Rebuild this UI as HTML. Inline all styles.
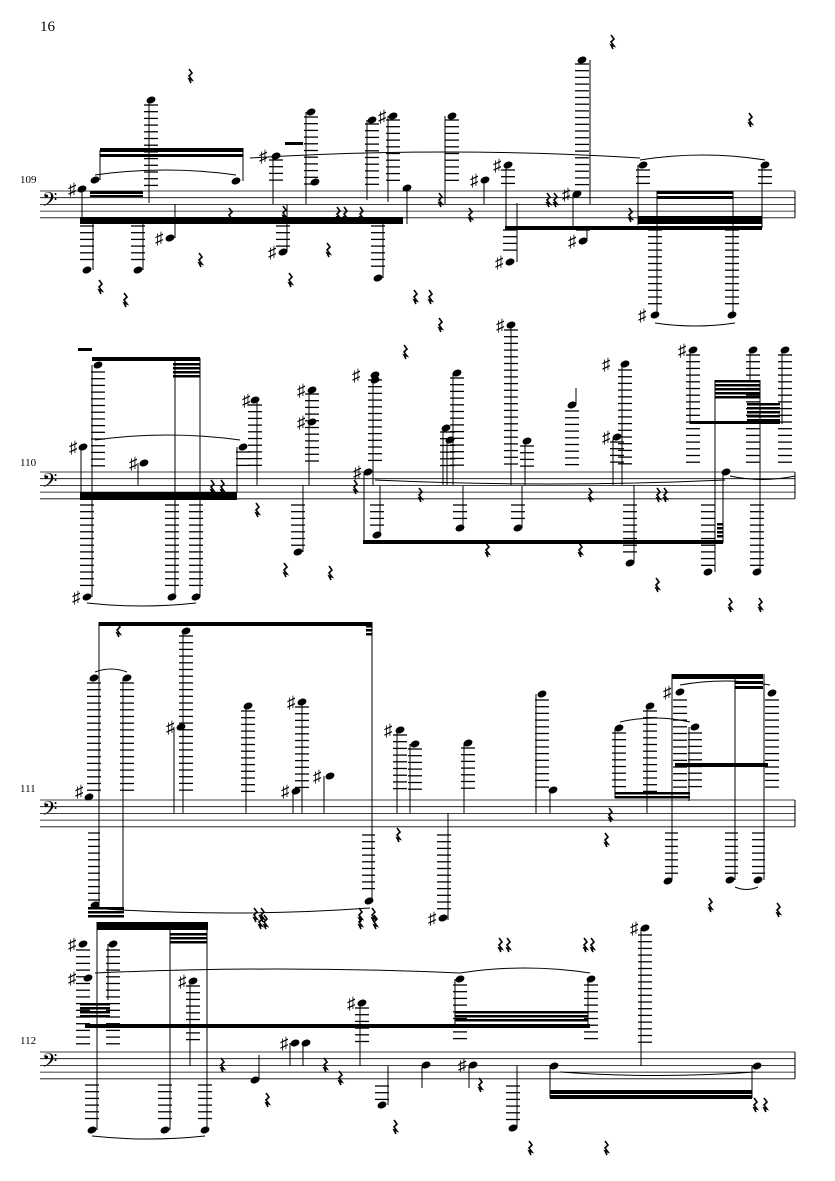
<!DOCTYPE html>
<html><head><meta charset="utf-8"><style>
html,body{margin:0;padding:0;background:#fff;width:835px;height:1181px;overflow:hidden}
svg{display:block}
text{font-family:"Liberation Serif",serif}
</style></head><body>
<svg id="s" width="835" height="1181" viewBox="0 0 835 1181" xmlns="http://www.w3.org/2000/svg">
<text x="40" y="31" font-size="15">16</text>
<text x="20" y="183" font-size="11">109</text>
<text x="20" y="466" font-size="11">110</text>
<text x="20" y="792" font-size="11">111</text>
<text x="20" y="1044" font-size="11">112</text>
</svg>
<script>
var s=document.getElementById('s'),h='';
function ln(x1,y1,x2,y2,w){h+='<line x1="'+x1+'" y1="'+y1+'" x2="'+x2+'" y2="'+y2+'" stroke="#000" stroke-width="'+(w||1)+'"/>';}
function staff(t){for(var i=0;i<5;i++)ln(40,t+i*6.7,795,t+i*6.7,0.8);ln(795,t,795,t+26.8,1);
 h+='<text x="42" y="'+(t+19)+'" font-family="DejaVu Sans" font-size="24">𝄢</text>';}
function N(x,y){h+='<ellipse cx="'+x+'" cy="'+y+'" rx="4.6" ry="3.3" transform="rotate(-22 '+x+' '+y+')" fill="#000"/>';}
function L(x1,x2,y1,y2){for(var y=y1;y<=y2+0.1;y+=6.7)ln(x1,y,x2,y,1.3);}
function St(x,y1,y2){ln(x,y1,x,y2,1);}
function B(x1,x2,y,hh){h+='<rect x="'+x1+'" y="'+y+'" width="'+(x2-x1)+'" height="'+hh+'" fill="#000"/>';}
function BS(x1,x2,y,n){for(var i=0;i<n;i++)B(x1,x2,y+i*4,2.5);}
function Sh(x,y){h+='<text x="'+(x-5)+'" y="'+(y+6)+'" font-family="DejaVu Sans" font-size="17">♯</text>';}
function R(x,y){h+='<path d="M'+(x-1)+' '+(y-7)+' l3 4 l-3 3 l3 4 l-3 -1 l2 4" stroke="#000" stroke-width="1.6" fill="none"/>';}
function SL(x1,x2,y,d){h+='<path d="M'+x1+' '+y+' Q'+((x1+x2)/2)+' '+(y+d)+' '+x2+' '+y+'" stroke="#000" stroke-width="1" fill="none"/>';}
function UN(x,y,l1,l2,sx,s2){L(x-7,x+7,l1,l2);N(x,y);if(sx!=null)St(sx,y,s2);}
// ---------- staff 109 ----------
var t=191;staff(t);
N(82,189);Sh(73,189);St(82,189,224);
B(80,403,217,7);B(90,143,191,3);B(90,143,195,2);
N(95,180);St(100,150,180);B(100,243,148,4);B(100,243,154,3);N(236,181);St(243,148,181);
UN(151,100,105,186,null);St(149,100,203);
UN(87,270,226,265,93,224);UN(138,270,226,265,143,224);
N(170,238);Sh(160,238);St(175,204,238);
UN(276,156,160,186,273,204);Sh(264,156);
UN(283,252,226,246,287,204);Sh(273,252);
UN(311,112,117,186,306,204);N(315,182);
B(285,303,142,3);
UN(372,120,124,186,367,200);UN(393,116,120,186,388,202);Sh(383,116);
N(407,188);St(407,188,224);
UN(378,278,226,272,383,217);
R(190,76);R(230,215);R(284,213);R(338,214);R(345,214);R(361,214);R(100,287);R(125,300);R(200,260);R(290,280);R(328,250);R(415,297);R(430,297);
UN(452,116,120,186,445,204);
N(485,180);Sh(475,180);St(484,180,204);
UN(508,165,170,186,506,228);Sh(498,165);
B(505,762,226,4);B(638,762,216,8);
UN(510,262,230,255,517,203);Sh(500,262);
N(577,194);Sh(567,194);St(573,194,228);
UN(582,60,64,186,590,204);
UN(583,241,230,236,587,228);Sh(573,241);
UN(643,165,170,186,638,225);
B(657,733,191,3);B(657,733,196,3);
UN(655,315,230,310,657,191);Sh(643,315);
UN(732,315,230,310,733,191);
UN(765,165,170,186,762,228);
R(440,200);R(470,215);R(548,200);R(555,200);R(630,215);R(612,42);R(750,120);
SL(95,236,175,-10);SL(250,640,158,-12);SL(640,765,160,-10);SL(655,735,323,6);
// ---------- staff 110 ----------
t=472;staff(t);
N(83,447);Sh(74,447);St(81,447,500);B(80,237,492,8);
B(92,200,357,4);BS(173,200,363,4);
UN(98,365,372,466,92,597);B(78,92,348,3);
UN(87,597,505,590,null);Sh(77,597);
N(144,463);Sh(134,463);St(138,463,485);
UN(172,597,505,590,175,358);UN(196,597,505,590,200,358);
SL(95,240,440,-10);SL(87,196,603,6);
UN(243,447,452,466,237,492);R(212,487);R(222,487);
UN(255,400,405,466,257,485);Sh(247,400);
UN(298,552,505,546,303,485);
UN(312,390,394,466,309,485);N(312,422);Sh(302,390);Sh(302,422);
R(257,510);R(285,570);R(330,573);
N(368,472);Sh(358,472);St(364,472,543);B(363,723,540,4);
UN(377,535,505,530,380,486);
UN(375,375,380,466,373,485);N(375,380);Sh(357,375);
N(446,428);N(450,440);L(440,455,432,466);St(443,428,485);St(447,440,485);
UN(457,373,378,466,453,485);
UN(460,528,505,522,463,486);
UN(511,325,330,466,511,485);Sh(501,325);
UN(527,441,446,466,525,485);
UN(518,528,505,522,522,486);
UN(572,405,411,466,null);St(576,388,405);
UN(625,364,370,466,622,485);Sh(607,364);
UN(617,437,442,466,613,485);Sh(607,437);
UN(630,563,505,558,634,485);
N(726,472);St(723,472,543);BS(717,723,523,4);
UN(693,350,355,466,690,424);Sh(683,350);
UN(753,350,355,466,750,380);UN(785,350,355,466,782,424);
B(690,780,421,3);BS(715,760,380,5);BS(747,780,403,5);
St(715,380,572);St(760,380,572);
UN(708,572,505,566,null);UN(757,572,505,566,null);
R(355,487);R(420,495);R(487,550);R(580,550);R(590,495);R(658,495);R(665,495);R(657,585);R(405,352);R(440,325);R(730,605);R(760,605);
SL(375,725,480,8);SL(730,795,476,7);
// ---------- staff 111 ----------
t=800;staff(t);
N(89,797);Sh(80,791);
B(99,372,622,4);
UN(94,678,683,793,99,622);L(88,100,833,900);N(95,905);St(99,678,907);
BS(88,124,907,3);
UN(127,678,683,793,123,910);
N(181,727);Sh(171,727);St(174,727,813);
UN(186,631,636,793,183,813);
UN(248,706,711,793,246,813);
N(296,791);Sh(286,791);St(293,791,813);
UN(302,702,707,793,302,813);Sh(292,702);
N(330,776);Sh(318,776);St(324,776,813);
St(372,622,900);L(362,375,835,895);N(369,901);BS(366,372,625,3);
UN(400,730,735,793,397,813);Sh(389,730);
UN(415,744,749,793,410,813);
R(398,835);R(260,922);R(265,922);R(360,922);R(375,922);R(118,630);
SL(90,370,908,10);SL(95,127,672,-6);
St(448,813,920);L(437,451,835,915);N(443,918);Sh(433,918);
UN(468,743,748,793,464,813);
UN(542,694,700,793,536,813);N(553,790);St(550,790,813);
UN(619,728,733,793,615,798);BS(615,690,792,2);
UN(650,706,711,793,647,813);
UN(680,692,700,793,672,674);St(672,674,880);L(665,678,833,875);N(668,881);Sh(668,692);
UN(695,727,733,793,689,801);
B(672,763,674,5);B(735,763,681,3);B(735,763,686,3);B(675,768,763,4);
St(735,674,880);L(725,738,833,875);N(730,880);
UN(772,693,700,793,764,674);St(764,674,880);L(752,765,833,875);N(758,880);
R(610,815);R(606,840);R(710,905);R(778,910);
SL(620,690,722,-8);SL(680,770,685,-8);SL(735,758,887,5);
// ---------- staff 112 ----------
t=1052;staff(t);
UN(83,944,950,1045,null);N(88,978);Sh(73,944);Sh(73,978);
St(97,922,1130);B(97,208,922,8);BS(170,207,933,3);
BS(80,110,1003,4);
UN(113,944,950,1045,108,1000);
B(85,590,1024,4);
UN(92,1130,1085,1125,null);
St(170,922,1130);UN(165,1130,1085,1125,null);
St(207,922,1130);UN(205,1130,1085,1125,null);
UN(193,981,986,1045,190,1066);Sh(183,981);
N(255,1080);St(259,1055,1080);
N(295,1043);Sh(285,1043);St(290,1043,1066);N(306,1043);St(303,1043,1066);
UN(362,1003,1008,1045,360,1066);Sh(352,1003);
UN(382,1105,1086,1100,388,1066);
N(426,1065);St(422,1065,1088);
N(473,1065);Sh(463,1065);St(469,1065,1088);
UN(513,1128,1086,1122,517,1066);
UN(460,979,985,1045,455,1024);UN(591,979,985,1045,588,1024);
BS(455,588,1011,3);
UN(645,928,935,1045,641,1066);Sh(635,928);
N(554,1066);St(550,1066,1098);B(550,752,1090,4);B(550,752,1095,4);
N(757,1066);St(752,1066,1098);
R(222,1065);R(267,1100);R(325,1065);R(340,1078);R(395,1127);R(255,915);R(262,915);R(360,915);R(373,915);
R(480,1085);R(500,945);R(508,945);R(585,945);R(592,945);R(530,1148);R(606,1148);R(755,1105);R(765,1105);
SL(95,460,973,-8);SL(460,590,973,-10);SL(92,205,1136,6);SL(560,755,1072,7);
s.insertAdjacentHTML('beforeend',h);
</script>
</body></html>
